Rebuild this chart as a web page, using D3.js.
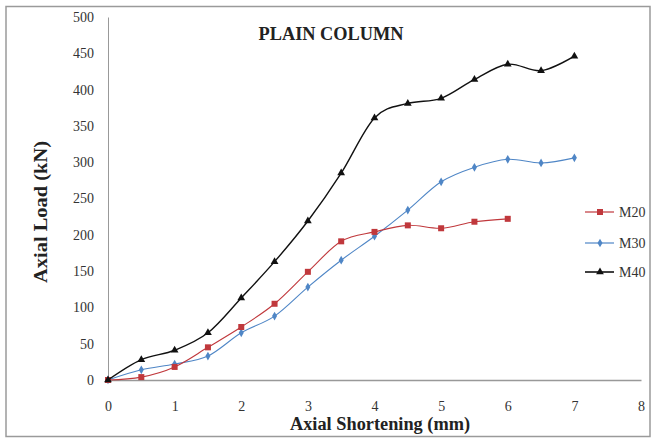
<!DOCTYPE html>
<html><head><meta charset="utf-8">
<script src="https://cdn.jsdelivr.net/npm/d3@7"></script>
<style>body{margin:0;background:#fff}svg{display:block}</style>
</head><body>
<svg id="c" width="652" height="439"></svg>
<script>
const xValuesM20 = [0,0.5,1,1.5,2,2.5,3,3.5,4,4.5,5,5.5,6];
const xValuesM30M40 = [0,0.5,1,1.5,2,2.5,3,3.5,4,4.5,5,5.5,6,6.5,7];
const m20 = [0,4,18,45,73,105,149,191,204,213,209,218,222];
const m30 = [0,14,22,33,65,88,128,165,198,234,273,293,304,299,306];
const m40 = [0,28,41,65,113,163,219,285,361,381,388,414,435,426,446];
const xTicks = [0,1,2,3,4,5,6,7,8];
const yTicks = [0,50,100,150,200,250,300,350,400,450,500];
const seriesNames = ["M20","M30","M40"];
const colors = ["#c0383c","#4f86c6","#111111"];

const svg = d3.select("#c");
const x = d3.scaleLinear().domain([0,8]).range([108,641]);
const y = d3.scaleLinear().domain([0,500]).range([380,17]);
const serif = "'Liberation Serif','Times New Roman',serif";

svg.append("rect").attr("x",6).attr("y",6.5).attr("width",644).attr("height",430)
  .attr("fill","#fff").attr("stroke","#9a9a9a").attr("stroke-width",1.5);

// axes
const yAxis = d3.axisLeft(y).tickValues(yTicks).tickSize(0).tickPadding(14);
const gy = svg.append("g").attr("transform","translate(108,0)").call(yAxis);
gy.select(".domain").attr("stroke","#999");
gy.selectAll("text").attr("font-family",serif).attr("font-size",14).attr("fill","#333");

const xAxis = d3.axisBottom(x).tickValues(xTicks).tickSize(0).tickPadding(21);
const gx = svg.append("g").attr("transform","translate(0,380)").call(xAxis);
gx.select(".domain").attr("stroke","#999").attr("stroke-width",1.3);
gx.selectAll("text").attr("font-family",serif).attr("font-size",14).attr("fill","#333");

// titles
svg.append("text").attr("x",331).attr("y",40).attr("text-anchor","middle")
  .attr("font-family",serif).attr("font-weight","bold").attr("font-size",18.5).attr("fill","#222")
  .attr("textLength",145).attr("lengthAdjust","spacingAndGlyphs")
  .text("PLAIN COLUMN");
svg.append("text").attr("x",380).attr("y",430).attr("text-anchor","middle")
  .attr("font-family",serif).attr("font-weight","bold").attr("font-size",18.5).attr("fill","#222")
  .attr("textLength",180).attr("lengthAdjust","spacingAndGlyphs")
  .text("Axial Shortening (mm)");
svg.append("text").attr("transform","translate(47,212) rotate(-90)").attr("text-anchor","middle")
  .attr("font-family",serif).attr("font-weight","bold").attr("font-size",18).attr("fill","#222")
  .attr("textLength",142).attr("lengthAdjust","spacingAndGlyphs")
  .text("Axial Load (kN)");

const data = [
  xValuesM20.map((v,i)=>[v,m20[i]]),
  xValuesM30M40.map((v,i)=>[v,m30[i]]),
  xValuesM30M40.map((v,i)=>[v,m40[i]])
];
const line = d3.line().x(d=>x(d[0])).y(d=>y(d[1])).curve(d3.curveCardinal.tension(0));

function marker(g, type, cx, cy, color){
  if(type===0){
    g.append("rect").attr("x",cx-3).attr("y",cy-3).attr("width",6).attr("height",6).attr("fill",color);
  } else if(type===1){
    g.append("path").attr("d",d3.symbol(d3.symbolDiamond,22)()).attr("transform",`translate(${cx},${cy})`).attr("fill",color);
  } else {
    g.append("path").attr("d",d3.symbol(d3.symbolTriangle,26)()).attr("transform",`translate(${cx},${cy})`).attr("fill",color);
  }
}

// draw in order M30, M20, M40
[1,0,2].forEach(k=>{
  const g = svg.append("g");
  g.append("path").attr("d",line(data[k])).attr("fill","none").attr("stroke",colors[k]).attr("stroke-width",k===2?1.4:1.1);
  data[k].forEach(d=>marker(g,k,x(d[0]),y(d[1]),colors[k]));
});

// legend
const legY = [212,243,272];
seriesNames.forEach((n,k)=>{
  const g = svg.append("g");
  g.append("line").attr("x1",585).attr("x2",614).attr("y1",legY[k]).attr("y2",legY[k]).attr("stroke",colors[k]).attr("stroke-width",k===2?1.6:1.2);
  marker(g,k,600,legY[k],colors[k]);
  g.append("text").attr("x",619).attr("y",legY[k]+5).attr("font-family",serif).attr("font-size",14).attr("fill","#333").text(n);
});
</script>
</body></html>
